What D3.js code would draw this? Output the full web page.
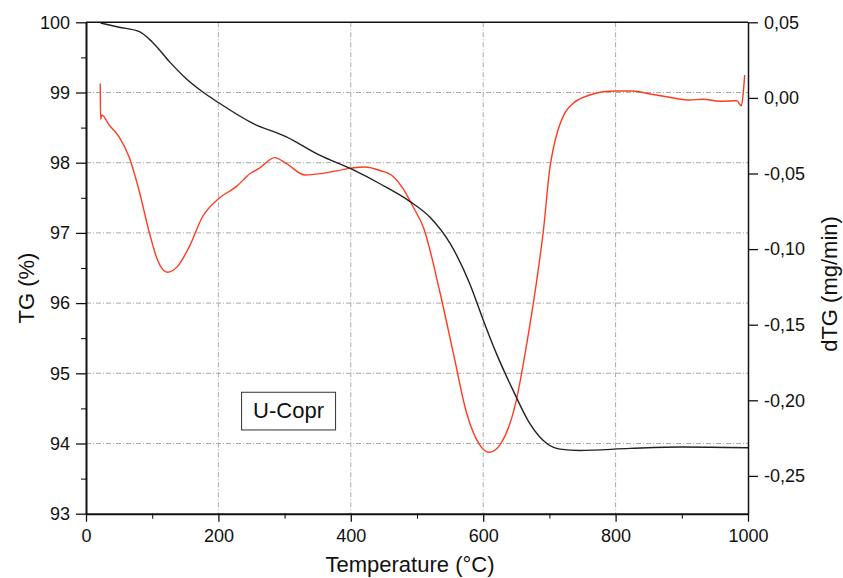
<!DOCTYPE html>
<html>
<head>
<meta charset="utf-8">
<script src="https://cdn.jsdelivr.net/npm/d3@7"></script>
<style>
  body { margin: 0; background: #fff; }
  text { font-family: "Liberation Sans", Arial, sans-serif; fill: #111; }
</style>
</head>
<body>
<svg id="chart" width="843" height="578"></svg>
<script>
// TG curve (black, left axis)
const tgTemp = [22, 50, 80, 100, 126, 151, 176, 201, 252, 302, 352, 403, 444, 489, 520, 550, 580, 600, 620, 645, 670, 696, 716, 746, 822, 900, 1000];
const tgVal  = [99.99, 99.93, 99.87, 99.72, 99.44, 99.20, 99.01, 98.85, 98.56, 98.37, 98.11, 97.90, 97.70, 97.45, 97.22, 96.85, 96.27, 95.76, 95.28, 94.76, 94.29, 94.00, 93.92, 93.90, 93.93, 93.95, 93.94];

// dTG curve (red, right axis)
const dtgTemp = [21.5, 22, 24, 35, 50, 65, 80, 96, 108, 123, 138, 156, 176, 201, 227, 248, 262, 285, 303, 331, 358, 399, 421, 444, 464, 479, 494, 510, 535, 555, 575, 595, 609, 625, 650, 665, 681, 691, 701, 706, 713, 723, 736, 761, 781, 801, 826, 852, 877, 912, 932, 958, 983, 990, 993, 995];
const dtgVal  = [0.0096, -0.0142, -0.0113, -0.0179, -0.0257, -0.0389, -0.0609, -0.0896, -0.1072, -0.1153, -0.1116, -0.0984, -0.0786, -0.0664, -0.0587, -0.0500, -0.0465, -0.0395, -0.0435, -0.0510, -0.0499, -0.0466, -0.0457, -0.0480, -0.0520, -0.0600, -0.0720, -0.0860, -0.1292, -0.1690, -0.2086, -0.2296, -0.2344, -0.2296, -0.2000, -0.1646, -0.1204, -0.0874, -0.0455, -0.0333, -0.0212, -0.0102, -0.0036, 0.0019, 0.0041, 0.0046, 0.0046, 0.0026, 0.0008, -0.0014, -0.0009, -0.0022, -0.0019, -0.0052, 0.0041, 0.0151];

const xTicks = [0, 200, 400, 600, 800, 1000];
const xMinor = [100, 300, 500, 700, 900];
const yTicks = [93, 94, 95, 96, 97, 98, 99, 100];
const yMinor = [93.5, 94.5, 95.5, 96.5, 97.5, 98.5, 99.5];
const y2Ticks = [-0.25, -0.20, -0.15, -0.10, -0.05, 0.00, 0.05];

const margin = { top: 22.3, right: 95, bottom: 64.3, left: 86 };
const width = 843 - margin.left - margin.right;
const height = 578 - margin.top - margin.bottom;

const svg = d3.select("#chart");
const g = svg.append("g")
  .attr("transform", "translate(" + margin.left + "," + margin.top + ")");

const x = d3.scaleLinear().domain([0, 1000]).range([0, width]);
const y = d3.scaleLinear().domain([93, 100]).range([height, 0]);
const y2 = d3.scaleLinear().domain([-0.275, 0.05]).range([height, 0]);

// grid
const grid = g.append("g").attr("stroke", "#aaa").attr("stroke-width", 1).attr("stroke-dasharray", "5,2,1,2");
grid.selectAll(".gx").data(xTicks.slice(1, -1)).enter().append("line")
  .attr("x1", d => x(d)).attr("x2", d => x(d)).attr("y1", 0).attr("y2", height);
grid.selectAll(".gy").data(yTicks.slice(1, -1)).enter().append("line")
  .attr("x1", 0).attr("x2", width).attr("y1", d => y(d)).attr("y2", d => y(d));

// curves
const tgData = tgTemp.map((t, i) => [t, tgVal[i]]);
const dtgData = dtgTemp.map((t, i) => [t, dtgVal[i]]);

g.append("path").datum(dtgData)
  .attr("fill", "none").attr("stroke", "#ff3b1f").attr("stroke-width", 1.4)
  .attr("d", d3.line().x(d => x(d[0])).y(d => y2(d[1])).curve(d3.curveMonotoneX));

g.append("path").datum(tgData)
  .attr("fill", "none").attr("stroke", "#222").attr("stroke-width", 1.4)
  .attr("d", d3.line().x(d => x(d[0])).y(d => y(d[1])).curve(d3.curveMonotoneX));

// axes
const fmt2 = v => v.toFixed(2).replace(".", ",");

const axL = g.append("g")
  .call(d3.axisLeft(y).tickValues(yTicks).tickFormat(d3.format("d")).tickSize(10).tickPadding(6).tickSizeOuter(0));
g.append("g").call(d3.axisLeft(y).tickValues(yMinor).tickSize(5).tickFormat("").tickSizeOuter(0))
  .select(".domain").remove();

const axB = g.append("g").attr("transform", "translate(0," + height + ")")
  .call(d3.axisBottom(x).tickValues(xTicks).tickFormat(d3.format("d")).tickSize(8).tickPadding(8).tickSizeOuter(0));
g.append("g").attr("transform", "translate(0," + height + ")")
  .call(d3.axisBottom(x).tickValues(xMinor).tickSize(5).tickFormat("").tickSizeOuter(0))
  .select(".domain").remove();

const axR = g.append("g").attr("transform", "translate(" + width + ",0)")
  .call(d3.axisRight(y2).tickValues(y2Ticks).tickFormat(fmt2).tickSize(10).tickPadding(6).tickSizeOuter(0));

g.append("line").attr("x1", 0).attr("x2", width).attr("y1", 0).attr("y2", 0)
  .attr("stroke", "#111").attr("stroke-width", 1.5);

[axL, axB, axR].forEach(a => {
  a.selectAll("text").style("font-size", "18px").style("font-family", "'Liberation Sans', Arial, sans-serif").attr("fill", "#111");
  a.selectAll("line").attr("stroke", "#111").attr("stroke-width", 1.3);
});
axL.select(".domain").attr("stroke", "#111").attr("stroke-width", 2);
axB.select(".domain").attr("stroke", "#111").attr("stroke-width", 2);
axR.select(".domain").attr("stroke", "#111").attr("stroke-width", 1.5);

// titles
svg.append("text").attr("x", 410).attr("y", 572).attr("text-anchor", "middle")
  .style("font-size", "22px").text("Temperature (°C)");
svg.append("text").attr("transform", "translate(33.5,288) rotate(-90)").attr("text-anchor", "middle")
  .style("font-size", "22px").text("TG (%)");
svg.append("text").attr("transform", "translate(837,284) rotate(-90)").attr("text-anchor", "middle")
  .style("font-size", "22px").text("dTG (mg/min)");

// sample label box
const bx = x(235), by = y(94.73);
g.append("rect").attr("x", bx).attr("y", by).attr("width", 94).attr("height", 37.7)
  .attr("fill", "#fff").attr("stroke", "#333").attr("stroke-width", 1);
g.append("text").attr("x", bx + 47).attr("y", by + 25.5).attr("text-anchor", "middle")
  .style("font-size", "22px").text("U-Copr");
</script>
</body>
</html>
